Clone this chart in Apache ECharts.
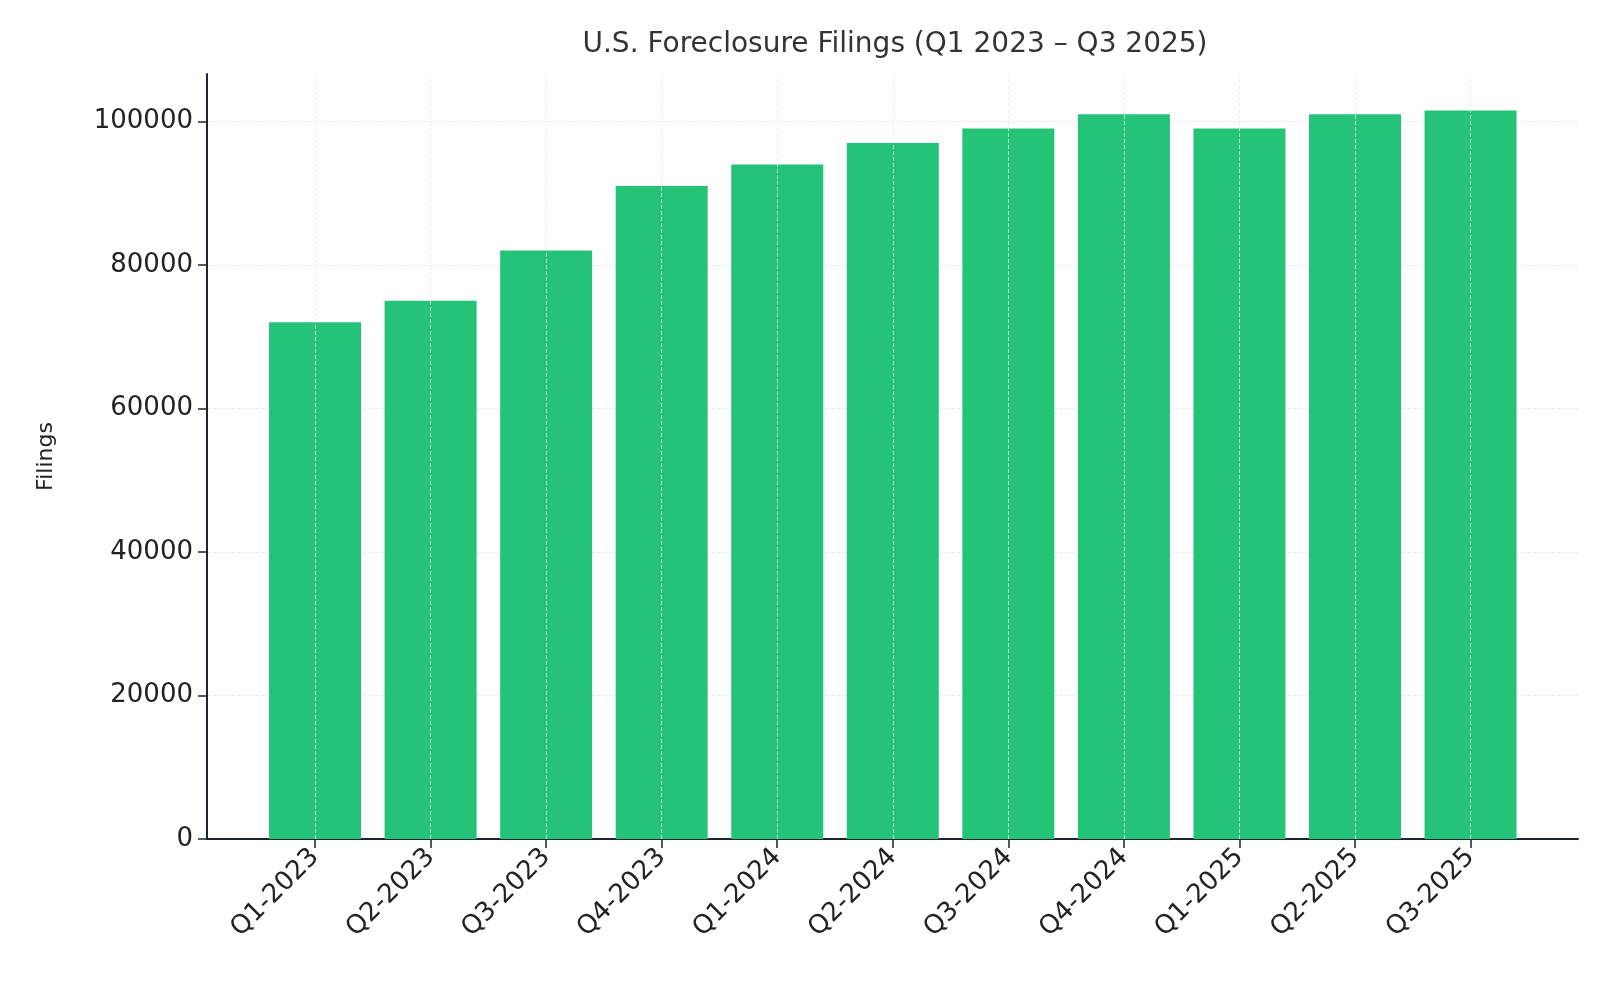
<!DOCTYPE html>
<html><head><meta charset="utf-8">
<script src="https://cdn.jsdelivr.net/npm/echarts@6/dist/echarts.min.js"></script>
<style>html,body{margin:0;padding:0;background:#fff}#c{width:1600px;height:1000px}</style>
</head><body><div id="c"></div>
<script>
const categories = ['Q1-2023','Q2-2023','Q3-2023','Q4-2023','Q1-2024','Q2-2024','Q3-2024','Q4-2024','Q1-2025','Q2-2025','Q3-2025'];
const filings = [72000,75000,82000,91000,94000,97000,99000,101000,99000,101000,101500];
const yTicks = [0,20000,40000,60000,80000,100000];
const idx = categories.map((c,i)=>i);
const chart = echarts.init(document.getElementById('c'));
const font = 'DejaVu Sans';
chart.setOption({
  animation:false,
  textStyle:{fontFamily:font},
  title:{text:'U.S. Foreclosure Filings (Q1 2023 – Q3 2025)',left:890,top:26,textAlign:'center',
    textStyle:{fontSize:28,fontWeight:'normal',color:'#333',fontFamily:font}},
  grid:{left:207,right:22,top:74,bottom:161},
  xAxis:{type:'value',min:-0.935,max:10.93,
    axisLine:{show:true,onZero:false,lineStyle:{color:'#1a2433',width:2}},
    axisTick:{show:true,customValues:idx,length:9,lineStyle:{color:'#1a2433',width:1.5}},
    axisLabel:{customValues:idx,rotate:45,fontSize:26,color:'#222',margin:14,
      formatter:v=>categories[Math.round(v)]},
    splitLine:{show:false}},
  yAxis:{type:'value',min:0,max:106600,interval:20000,name:'Filings',nameLocation:'middle',nameGap:150,
    nameTextStyle:{fontSize:22,color:'#222'},
    axisLine:{show:true,onZero:false,lineStyle:{color:'#1a2433',width:2}},
    axisTick:{show:true,customValues:yTicks,length:9,lineStyle:{color:'#1a2433',width:1.5}},
    axisLabel:{customValues:yTicks,fontSize:26,color:'#222',margin:14,formatter:v=>String(v)},
    splitLine:{show:true,lineStyle:{color:'#e6ecef',type:'dashed'}}},
  series:[{type:'bar',barWidth:92,itemStyle:{color:'#24C378'},
    data:filings.map((v,i)=>[i,v]),
    markLine:{silent:true,symbol:'none',label:{show:false},
      lineStyle:{color:'rgba(225,235,240,0.75)',type:'dashed',width:1},
      data:idx.map(i=>({xAxis:i}))}}]
});
</script></body></html>
